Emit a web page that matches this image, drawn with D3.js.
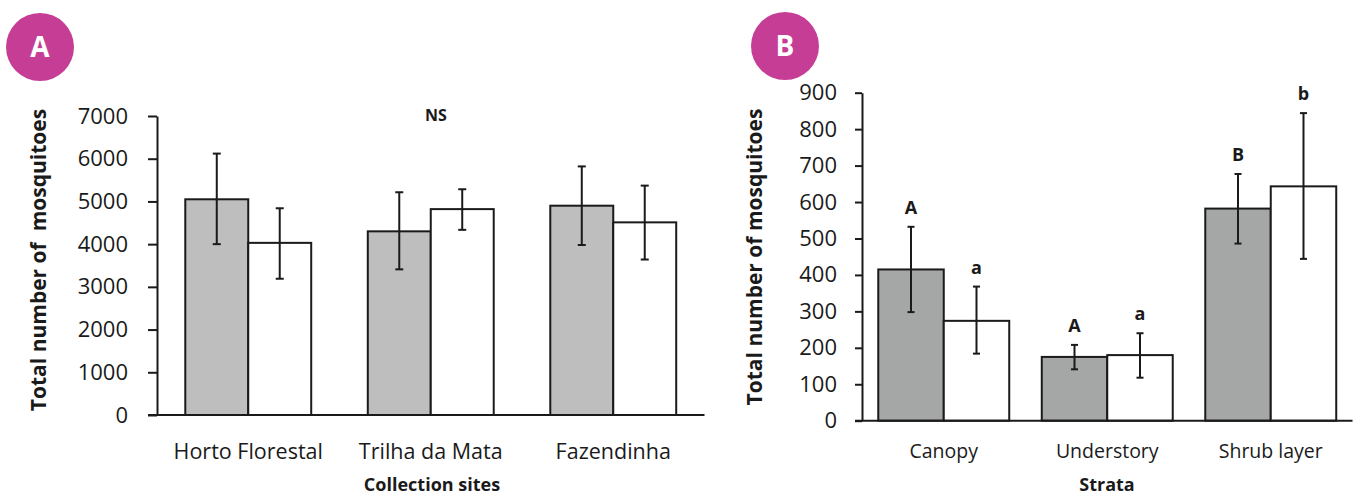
<!DOCTYPE html>
<html>
<head>
<meta charset="utf-8">
<script src="https://cdn.jsdelivr.net/npm/d3@7"></script>
<style>
  html, body { margin: 0; padding: 0; background: #fff; }
  svg { display: block; }
  text { font-family: "Open Sans", sans-serif; fill: #1a1a1a; }
</style>
</head>
<body>
<svg id="chart" width="1355" height="497"></svg>
<script>
// ---------- DATA ----------
const sites = ["Horto Florestal", "Trilha da Mata", "Fazendinha"];
const siteGray = [5050, 4300, 4900];
const siteGrayLow = [4000, 3410, 3980];
const siteGrayHigh = [6120, 5215, 5820];
const siteWhite = [4030, 4820, 4510];
const siteWhiteLow = [3190, 4335, 3640];
const siteWhiteHigh = [4840, 5285, 5370];
const siteTicks = [0, 1000, 2000, 3000, 4000, 5000, 6000, 7000];

const strata = ["Canopy", "Understory", "Shrub layer"];
const strataGray = [415, 175, 582];
const strataGrayLow = [298, 141, 486];
const strataGrayHigh = [532, 208, 677];
const strataWhite = [274, 180, 643];
const strataWhiteLow = [184, 118, 444];
const strataWhiteHigh = [368, 240, 844];
const strataGrayLetters = ["A", "A", "B"];
const strataWhiteLetters = ["a", "a", "b"];
const strataTicks = [0, 100, 200, 300, 400, 500, 600, 700, 800, 900];

const series = ["gray", "white"];

// ---------- DRAW ----------
const svg = d3.select("#chart");
const ink = "#1a1a1a";

function panel(opts) {
  const g = svg.append("g");
  const x = d3.scaleBand().domain(opts.cats).range(opts.xRange)
    .paddingInner(opts.padIn).paddingOuter(opts.padOut);
  const xs = d3.scaleBand().domain(series).range([0, x.bandwidth()]);
  const y = d3.scaleLinear().domain(opts.yDomain).range(opts.yRange);

  // y axis
  const ya = g.append("g").attr("transform", `translate(${opts.xRange[0]},0)`)
    .call(d3.axisLeft(y).tickValues(opts.ticks).tickSize(opts.tickLen)
      .tickSizeOuter(0).tickPadding(opts.tickPad).tickFormat(d3.format("d")));
  ya.select(".domain").attr("stroke", ink).attr("stroke-width", 2);
  ya.selectAll(".tick line").attr("stroke", ink).attr("stroke-width", 2);
  ya.selectAll(".tick text").attr("font-size", opts.yFont).attr("fill", ink)
    .style("font-family", "'Open Sans', sans-serif");

  // bars
  const rows = opts.cats.map((c, i) => [
    {cat: c, s: "gray", v: opts.gray[i], lo: opts.grayLo[i], hi: opts.grayHi[i], lab: opts.grayLab ? opts.grayLab[i] : null},
    {cat: c, s: "white", v: opts.white[i], lo: opts.whiteLo[i], hi: opts.whiteHi[i], lab: opts.whiteLab ? opts.whiteLab[i] : null}
  ]).flat();

  g.selectAll("rect.bar").data(rows).join("rect")
    .attr("class", "bar")
    .attr("x", d => x(d.cat) + xs(d.s))
    .attr("y", d => y(d.v))
    .attr("width", xs.bandwidth())
    .attr("height", d => y(0) - y(d.v))
    .attr("fill", d => d.s === "gray" ? opts.grayFill : "#ffffff")
    .attr("stroke", ink).attr("stroke-width", 2);

  // error bars
  const cx = d => x(d.cat) + xs(d.s) + xs.bandwidth() / 2;
  const eg = g.append("g").attr("stroke", ink).attr("stroke-width", 2);
  eg.selectAll("line.v").data(rows).join("line").attr("class", "v")
    .attr("x1", cx).attr("x2", cx).attr("y1", d => y(d.lo)).attr("y2", d => y(d.hi));
  eg.selectAll("line.t").data(rows).join("line").attr("class", "t")
    .attr("x1", d => cx(d) - opts.cap).attr("x2", d => cx(d) + opts.cap)
    .attr("y1", d => y(d.hi)).attr("y2", d => y(d.hi));
  eg.selectAll("line.b").data(rows).join("line").attr("class", "b")
    .attr("x1", d => cx(d) - opts.cap).attr("x2", d => cx(d) + opts.cap)
    .attr("y1", d => y(d.lo)).attr("y2", d => y(d.lo));

  // significance letters
  g.selectAll("text.sig").data(rows.filter(d => d.lab)).join("text")
    .attr("class", "sig")
    .attr("x", cx).attr("y", d => y(d.hi) - 13)
    .attr("text-anchor", "middle").attr("font-size", 18).attr("font-weight", 700)
    .text(d => d.lab);

  // x baseline
  g.append("line")
    .attr("x1", opts.xRange[0] - opts.tickLen).attr("x2", opts.xRange[1])
    .attr("y1", y(0)).attr("y2", y(0))
    .attr("stroke", ink).attr("stroke-width", 2);

  // x labels
  const xa = g.append("g").attr("transform", `translate(0,${y(0)})`)
    .call(d3.axisBottom(x).tickSize(0).tickPadding(opts.xPad));
  xa.select(".domain").remove();
  xa.selectAll(".tick text").attr("font-size", opts.xFont).attr("fill", ink)
    .style("font-family", "'Open Sans', sans-serif");

  // x title
  g.append("text").attr("x", opts.xTitleX).attr("y", 491)
    .attr("text-anchor", "middle").attr("font-size", 18).attr("font-weight", 700)
    .text(opts.xTitle);

  // y title
  g.append("text")
    .attr("transform", `translate(${opts.yTitleX},${opts.yTitleY}) rotate(-90)`)
    .attr("text-anchor", "middle").attr("font-size", 21).attr("font-weight", 700)
    .attr("xml:space", "preserve").style("white-space", "pre")
    .text(opts.yTitle);

  // badge
  svg.append("circle").attr("cx", opts.badge[0]).attr("cy", opts.badge[1]).attr("r", 34)
    .attr("fill", "#c63d96");
  svg.append("text").attr("x", opts.badge[0]).attr("y", opts.badge[1] + 10)
    .attr("text-anchor", "middle").attr("font-size", 28).attr("font-weight", 700)
    .style("fill", "#ffffff").text(opts.badgeText);

  return {g, x, y};
}

const A = panel({
  cats: sites, xRange: [157, 704.5], padIn: 0.31, padOut: 0.155,
  yDomain: [0, 7000], yRange: [415, 116], ticks: siteTicks,
  tickLen: 9, tickPad: 20, yFont: 22, xFont: 21.5, xPad: 29,
  gray: siteGray, grayLo: siteGrayLow, grayHi: siteGrayHigh,
  white: siteWhite, whiteLo: siteWhiteLow, whiteHi: siteWhiteHigh,
  grayFill: "#bebebe", cap: 4,
  xTitle: "Collection sites", xTitleX: 432,
  yTitle: "Total number of  mosquitoes", yTitleX: 46, yTitleY: 260,
  badge: [40, 47], badgeText: "A"
});
A.g.append("text").attr("x", 436).attr("y", 121).attr("text-anchor", "middle")
  .attr("font-size", 16).attr("font-weight", 700).text("NS");

const B = panel({
  cats: strata, xRange: [862, 1352.5], padIn: 0.199, padOut: 0.0995,
  yDomain: [0, 900], yRange: [420.7, 92.7], ticks: strataTicks,
  tickLen: 7, tickPad: 18, yFont: 22, xFont: 19.5, xPad: 23,
  gray: strataGray, grayLo: strataGrayLow, grayHi: strataGrayHigh,
  white: strataWhite, whiteLo: strataWhiteLow, whiteHi: strataWhiteHigh,
  grayLab: strataGrayLetters, whiteLab: strataWhiteLetters,
  grayFill: "#a5a7a7", cap: 3.5,
  xTitle: "Strata", xTitleX: 1107,
  yTitle: "Total number of mosquitoes", yTitleX: 762, yTitleY: 257,
  badge: [785, 46], badgeText: "B"
});
</script>
</body>
</html>
